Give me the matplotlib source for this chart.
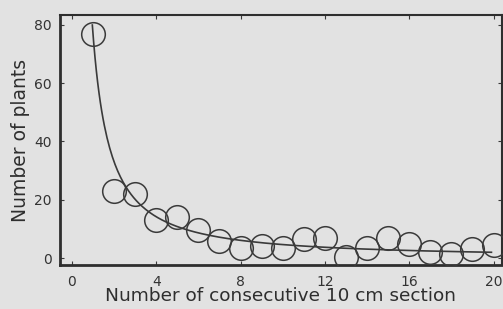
import numpy as np
import matplotlib
matplotlib.use("Agg")
import matplotlib.pyplot as plt

plt.rcParams['font.family'] = ['DejaVu Sans']

# counts per consecutive 10 cm section
sections = [1, 2, 3, 4, 5, 6, 7, 8, 9, 10, 11, 12, 13, 14, 15, 16, 17, 18, 19, 20]
plants = [77, 23, 22, 13, 14, 9.6, 6, 3.5, 4, 3.5, 6.5, 7, 0.5, 3.5, 7, 5, 2, 1.5, 3, 4.5]

# power-law fit y = a * x^-b
fit_a = 77.0
fit_b = 1.22
fit_start, fit_end = 0.97, 19.9

x_ticks = [0, 4, 8, 12, 16, 20]
y_ticks = [0, 20, 40, 60, 80]

bg = '#e2e2e2'
ink = '#3a3a3a'

fig = plt.figure(figsize=(5.03, 3.09), dpi=100, facecolor=bg)
ax = fig.add_axes([0.119, 0.142, 0.879, 0.809], facecolor=bg)

xs = np.linspace(fit_start, fit_end, 300)
ax.plot(xs, fit_a * xs ** (-fit_b), color=ink, linewidth=1.2, zorder=2)
ax.plot(sections, plants, linestyle='none', marker='o', markersize=17,
        markerfacecolor='none', markeredgecolor=ink, markeredgewidth=1.1, zorder=3)

ax.set_xlim(-0.57, 20.4)
ax.set_ylim(-2.4, 83.3)
ax.set_xticks(x_ticks)
ax.set_yticks(y_ticks)
ax.tick_params(direction='in', length=3, width=0.8, colors=ink, labelcolor='#333333',
               labelsize=10, top=True, right=True)
ax.tick_params(axis='y', pad=6)
ax.tick_params(axis='x', pad=7)
for side in ['left', 'bottom']:
    ax.spines[side].set_linewidth(2.0)
for side in ['top', 'right']:
    ax.spines[side].set_linewidth(1.5)
for sp in ax.spines.values():
    sp.set_color('#2e2e2e')

ax.set_xlabel('Number of consecutive 10 cm section', fontsize=13.3, color='#2e2e2e', labelpad=-1)
ax.set_ylabel('Number of plants', fontsize=13.5, color='#2e2e2e', labelpad=3)

fig.savefig('out.png', dpi=100, facecolor=bg)
